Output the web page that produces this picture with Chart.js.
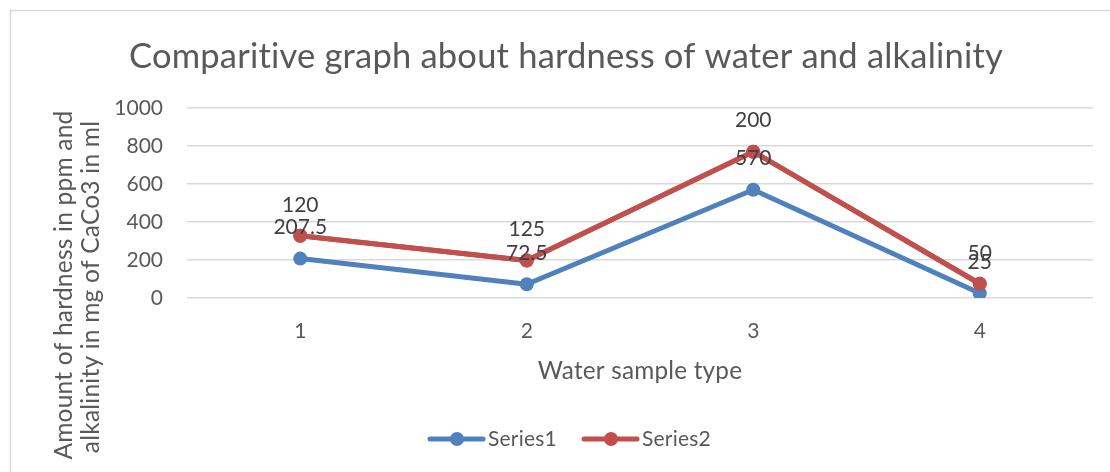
<!DOCTYPE html>
<html><head><meta charset="utf-8">
<script src="https://cdn.jsdelivr.net/npm/chart.js@4"></script>
<style>html,body{margin:0;padding:0;background:#fff}canvas{display:block}</style>
</head><body>
<div style="width:1110px;height:472px"><canvas id="c" width="1110" height="472"></canvas></div>
<script>
const categories = ['1', '2', '3', '4'];
const series1 = [207.5, 72.5, 570, 25];
const series2 = [120, 125, 200, 50];
const seriesNames = ['Series1', 'Series2'];
const yMin = 0, yMax = 1000, yStep = 200;
const chartTitle = 'Comparitive graph about hardness of water and alkalinity';
const xTitle = 'Water sample type';
const yTitle = ['Amount of hardness in ppm and', 'alkalinity in mg of CaCo3 in ml'];

const FONT = 'Lato, "Open Sans", sans-serif';
const TXT = '#595959';
const colors = ['#4F81BD', '#C0504D'];

function fitFont(ctx, text, width) {
  ctx.font = '100px ' + FONT;
  const w = ctx.measureText(text).width;
  return 100 * width / w;
}

const decor = {
  id: 'decor',
  beforeDraw(chart) {
    const ctx = chart.ctx;
    ctx.save();
    ctx.fillStyle = '#fff';
    ctx.fillRect(0, 0, chart.width, chart.height);
    ctx.strokeStyle = '#D9D9D9';
    ctx.lineWidth = 1.5;
    ctx.beginPath();
    ctx.moveTo(10.5, chart.height + 2);
    ctx.lineTo(10.5, 10.5);
    ctx.lineTo(chart.width + 2, 10.5);
    ctx.stroke();
    ctx.restore();
  },
  afterDatasetsDraw(chart) {
    // red series drawn over blue as in the original
    chart.getDatasetMeta(1).controller.draw();
    const ctx = chart.ctx;
    ctx.save();
    ctx.fillStyle = '#404040';
    ctx.font = '21px ' + FONT;
    ctx.textAlign = 'center';
    ctx.textBaseline = 'middle';
    chart.data.datasets.forEach((ds, di) => {
      const meta = chart.getDatasetMeta(di);
      meta.data.forEach((pt, i) => {
        ctx.fillText(String(ds.data[i]), pt.x, pt.y - 31);
      });
    });
    ctx.restore();
  },
  afterDraw(chart) {
    const ctx = chart.ctx;
    const area = chart.chartArea;
    ctx.save();
    try { ctx.letterSpacing = '0.2px'; } catch (e) {}
    ctx.fillStyle = TXT;
    // title
    let fs = fitFont(ctx, chartTitle, 867);
    ctx.font = fs + 'px ' + FONT;
    ctx.textAlign = 'center';
    ctx.textBaseline = 'alphabetic';
    ctx.fillText(chartTitle, 566, 68);
    // x title
    fs = fitFont(ctx, xTitle, 202);
    ctx.font = fs + 'px ' + FONT;
    ctx.textBaseline = 'middle';
    ctx.fillText(xTitle, (area.left + area.right) / 2, 371);
    // y title
    const fs1 = fitFont(ctx, yTitle[0], 345);
    const yPos = [[64, 285], [91, 287]];
    yTitle.forEach((t, i) => {
      ctx.save();
      ctx.translate(yPos[i][0], yPos[i][1]);
      ctx.rotate(-Math.PI / 2);
      ctx.font = fs1 + 'px ' + FONT;
      ctx.textAlign = 'center';
      ctx.textBaseline = 'middle';
      ctx.fillText(t, 0, 0);
      ctx.restore();
    });
    // legend
    const lx = [428, 582];
    const ly = 439;
    chart.data.datasets.forEach((ds, i) => {
      const x0 = lx[i];
      ctx.strokeStyle = ds.borderColor;
      ctx.lineWidth = 5;
      ctx.lineCap = 'round';
      ctx.beginPath();
      ctx.moveTo(x0 + 2, ly);
      ctx.lineTo(x0 + 55, ly);
      ctx.stroke();
      ctx.fillStyle = ds.borderColor;
      ctx.beginPath();
      ctx.arc(x0 + 29, ly, 7, 0, Math.PI * 2);
      ctx.fill();
      ctx.fillStyle = TXT;
      ctx.font = '21px ' + FONT;
      ctx.textAlign = 'left';
      ctx.textBaseline = 'middle';
      ctx.fillText(ds.label, x0 + 60, ly);
    });
    ctx.restore();
  }
};

function mkDs(label, data, color) {
  return {
    label, data,
    borderColor: color, backgroundColor: color,
    pointBackgroundColor: color, pointBorderColor: color,
    borderWidth: 5, pointRadius: 7, pointBorderWidth: 0, pointHoverRadius: 7,
    tension: 0, fill: false, borderCapStyle: 'round', borderJoinStyle: 'round'
  };
}

new Chart(document.getElementById('c'), {
  type: 'line',
  data: {
    labels: categories,
    datasets: [mkDs(seriesNames[0], series1, colors[0]), mkDs(seriesNames[1], series2, colors[1])]
  },
  options: {
    responsive: false,
    devicePixelRatio: 1,
    animation: false,
    layout: { padding: { top: 108, right: 17, left: 0, bottom: 0 } },
    plugins: { legend: { display: false }, title: { display: false }, tooltip: { enabled: false } },
    scales: {
      x: {
        type: 'category', offset: true,
        grid: { display: false, drawTicks: false },
        border: { display: false },
        ticks: { color: TXT, font: { family: FONT, size: 21 }, padding: 21 },
        afterFit(s) { s.height = 174; }
      },
      y: {
        stacked: true, min: yMin, max: yMax,
        ticks: { stepSize: yStep, color: TXT, font: { family: FONT, size: 21 }, padding: 24,
                 callback: (v) => String(v) },
        grid: { color: '#D9D9D9', lineWidth: 1.5, drawTicks: false },
        border: { display: false },
        afterFit(s) { s.width = 187; }
      }
    }
  },
  plugins: [decor]
});
</script>
</body></html>
